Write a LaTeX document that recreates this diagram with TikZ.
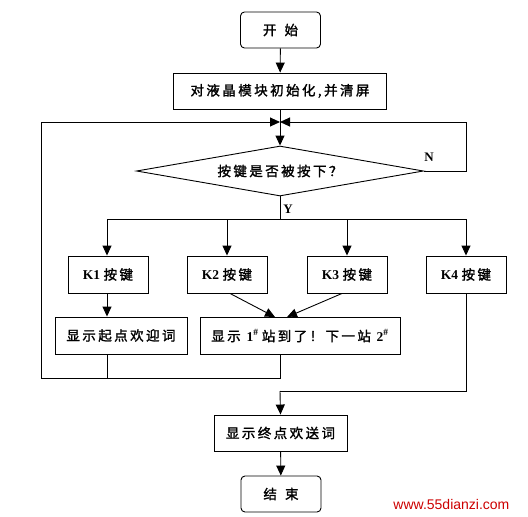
\documentclass[tikz,border=0pt]{standalone}
\usepackage{fontspec}
\setmainfont{Liberation Serif}
\newfontfamily\cjk[LetterSpace=18,FakeBold=1.6]{Noto Sans CJK SC}
\newfontfamily\wmfont{Liberation Sans}
\usetikzlibrary{arrows.meta,shapes.geometric}
\newcommand{\zh}[1]{{\cjk #1}}
\begin{document}
\begin{tikzpicture}[x=1pt,y=-1pt,
  line width=0.9pt,
  arr/.style={-{Triangle[length=10pt,width=9pt]}},
  box/.style={draw, rectangle, inner sep=0pt, minimum height=36pt, font=\fontsize{13.5}{15}\selectfont},
  term/.style={box, rounded corners=4pt, minimum width=80pt},
  lbl/.style={font=\fontsize{13}{15}\selectfont\bfseries, inner sep=0pt}]
\useasboundingbox (0,0) rectangle (528,517);

\node[term] (start) at (280.5,30) {\zh{开\hspace{0.6em}始}};
\node[box, minimum width=213pt] (init) at (280,91) {\zh{对液晶模块初始化,并清屏}};
\coordinate (m) at (280,122);
\node[draw, diamond, inner sep=0pt, minimum width=287pt, minimum height=50pt, aspect=5.7,
      font=\fontsize{13.5}{15}\selectfont] (dia) at (280,171) {\zh{按键是否被按下？}};
\coordinate (yb) at (280,219);

\node[box, minimum width=80pt, minimum height=37pt] (k1) at (108,274.5) {\textbf{K1} \zh{按键}};
\node[box, minimum width=80pt, minimum height=37pt] (k2) at (227,274.5) {\textbf{K2} \zh{按键}};
\node[box, minimum width=80pt, minimum height=37pt] (k3) at (347,274.5) {\textbf{K3} \zh{按键}};
\node[box, minimum width=80pt, minimum height=37pt] (k4) at (466,274.5) {\textbf{K4} \zh{按键}};

\node[box, minimum width=132pt, minimum height=37pt] (d1) at (121,335.5) {\zh{显示起点欢迎词}};
\node[box, minimum width=200pt, minimum height=37pt] (d2) at (300,336) {\zh{显示} \textbf{1\textsuperscript{\#}} \zh{站到了！下一站} \textbf{2\textsuperscript{\#}}};

\node[box, minimum width=133pt] (e1) at (280.5,433) {\zh{显示终点欢送词}};
\node[term] (fin) at (281,494) {\zh{结\hspace{0.6em}束}};

% coordinates for connectors
\coordinate (lb) at (41,378);
\coordinate (lt) at (41,122);
\coordinate (rt) at (466,122);
\coordinate (rn) at (466,171);
\coordinate (j1) at (107,378);
\coordinate (j2) at (280,378);
\coordinate (k4b) at (466,391);
\coordinate (e1t) at (280,391);
\coordinate (bl) at (107,219);
\coordinate (br) at (466,219);

% main flow
\draw[arr] (start) -- (init);
\draw (init.south) -- (m);
\draw[arr] (m) -- (dia.north);
\draw (dia.south) -- (yb);
\draw (bl) -- (br);
\draw[arr] (bl) -- (bl |- k1.north);
\draw[arr] (k2.north |- yb) -- (k2.north);
\draw[arr] (k3.north |- yb) -- (k3.north);
\draw[arr] (br) -- (k4.north);
\draw[arr] (bl |- k1.south) -- (bl |- d1.north);
\draw[arr] ([xshift=3pt]k2.south) -- ([xshift=-25pt]d2.north);
\draw[arr] ([xshift=-5pt]k3.south) -- ([xshift=-13pt]d2.north);

% loop back
\draw (j1 |- d1.south) -- (j1);
\draw (j2 |- d2.south) -- (j2) -- (lb) -- (lt);
\draw[arr] (lt) -- (m);
\draw (dia.east) -- (rn) -- (rt);
\draw[arr] (rt) -- (m);

% K4 to end
\draw (k4.south) -- (k4b) -- (e1t);
\draw[arr] (e1t) -- (e1.north);
\draw[arr] (e1) -- (fin);

\node[lbl] (nlab) at (429,157) {N};
\node[lbl] (ylab) at (288,209) {Y};
\node[inner sep=0pt, text=red!80!black, font=\wmfont\fontsize{14}{16}\selectfont, anchor=base west] (wm) at (393,509) {www.55dianzi.com};
\end{tikzpicture}
\end{document}
